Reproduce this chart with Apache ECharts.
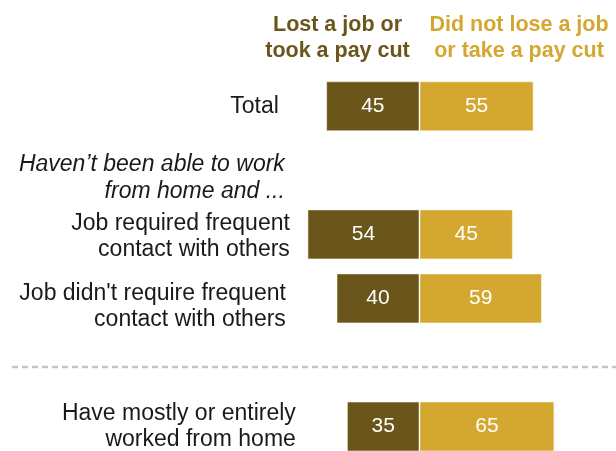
<!DOCTYPE html>
<html>
<head>
<meta charset="utf-8">
<script src="https://cdn.jsdelivr.net/npm/echarts@6/dist/echarts.min.js"></script>
<style>
  html, body { margin: 0; padding: 0; background: #fff; }
  #chart { width: 616px; height: 451px; }
</style>
</head>
<body>
<div id="chart"></div>
<script>
// Row labels (top to bottom); blank slots hold the group heading and the divider
const categories = [
  'Total',
  'Haven’t been able to work\nfrom home and ...',
  'Job required frequent\ncontact with others',
  'Job didn\'t require frequent\ncontact with others',
  '',
  'Have mostly or entirely\nworked from home'
];
// Shares (%) of each group
const lostJob = [45, null, 54, 40, null, 35];
const keptJob = [55, null, 45, 59, null, 65];

const seriesNames = ['Lost a job or\ntook a pay cut', 'Did not lose a job\nor take a pay cut'];

const DARK = '#6a561b';
const GOLD = '#d3a730';
const FONT = 'Liberation Sans';

// right-padding nudges each row label sideways, spacer height nudges it down
const padRight = [17, 11, 6, 10, 0, 0];
const spacer = [0, 16, 4, 16, 0, 0];
const rich = {};
padRight.forEach((p, i) => {
  rich['s' + i] = { fontSize: 6, lineHeight: spacer[i] };
  rich['r' + i] = { fontFamily: FONT, fontSize: 23, color: '#1a1a1a', lineHeight: 26, padding: [0, p, 0, 0], align: 'right' };
  rich['i' + i] = { fontFamily: FONT, fontSize: 23, color: '#1a1a1a', lineHeight: 27, fontStyle: 'italic', padding: [0, p, 0, 0], align: 'right' };
});

const chart = echarts.init(document.getElementById('chart'), null, { renderer: 'canvas' });

const labelStyle = {
  show: true,
  position: 'inside',
  color: '#ffffff',
  fontFamily: FONT,
  fontSize: 21,
  formatter: p => Math.abs(p.value)
};

chart.setOption({
  animation: false,
  backgroundColor: '#ffffff',
  title: [
    {
      text: seriesNames[0],
      left: 337.5, top: 12, padding: 0,
      textAlign: 'center',
      textStyle: { fontFamily: FONT, fontSize: 21.5, fontWeight: 'bold', color: DARK, lineHeight: 26 }
    },
    {
      text: seriesNames[1],
      left: 519, top: 12, padding: 0,
      textAlign: 'center',
      textStyle: { fontFamily: FONT, fontSize: 21.5, fontWeight: 'bold', color: GOLD, lineHeight: 26 }
    }
  ],
  grid: { left: 290.85, top: 106.3, width: 323.7, height: 321.3, containLabel: false },
  xAxis: {
    type: 'value',
    min: -62, max: 94,
    show: false
  },
  yAxis: {
    type: 'category',
    inverse: true,
    boundaryGap: false,
    data: categories,
    axisLine: { show: false, onZero: false },
    axisTick: { show: false },
    splitLine: { show: false },
    axisLabel: {
      margin: -5,
      align: 'right',
      formatter: (value, idx) => {
        if (!value) return '';
        const style = (idx === 1 ? 'i' : 'r') + idx;
        const body = value.split('\n').map(l => '{' + style + '|' + l + '}').join('\n');
        return spacer[idx] ? '{s' + idx + '| }\n' + body : body;
      },
      rich: rich
    }
  },
  series: [
    {
      name: seriesNames[0],
      type: 'bar',
      barWidth: 50,
      barGap: '-100%',
      clip: false,
      data: lostJob.map(v => (v == null ? null : -v)),
      itemStyle: { color: DARK, borderColor: 'rgba(255,250,225,0.55)', borderWidth: 1 },
      label: labelStyle
    },
    {
      name: seriesNames[1],
      type: 'bar',
      barWidth: 50,
      barGap: '-100%',
      clip: false,
      data: keptJob,
      itemStyle: { color: GOLD, borderColor: 'rgba(255,250,225,0.55)', borderWidth: 1 },
      label: labelStyle
    }
  ],
  graphic: [
    {
      type: 'line',
      shape: { x1: 12, y1: 367, x2: 616, y2: 367 },
      style: { stroke: '#c6c6c6', lineWidth: 2.5, lineDash: [6, 4] },
      silent: true
    }
  ]
});
</script>
</body>
</html>
